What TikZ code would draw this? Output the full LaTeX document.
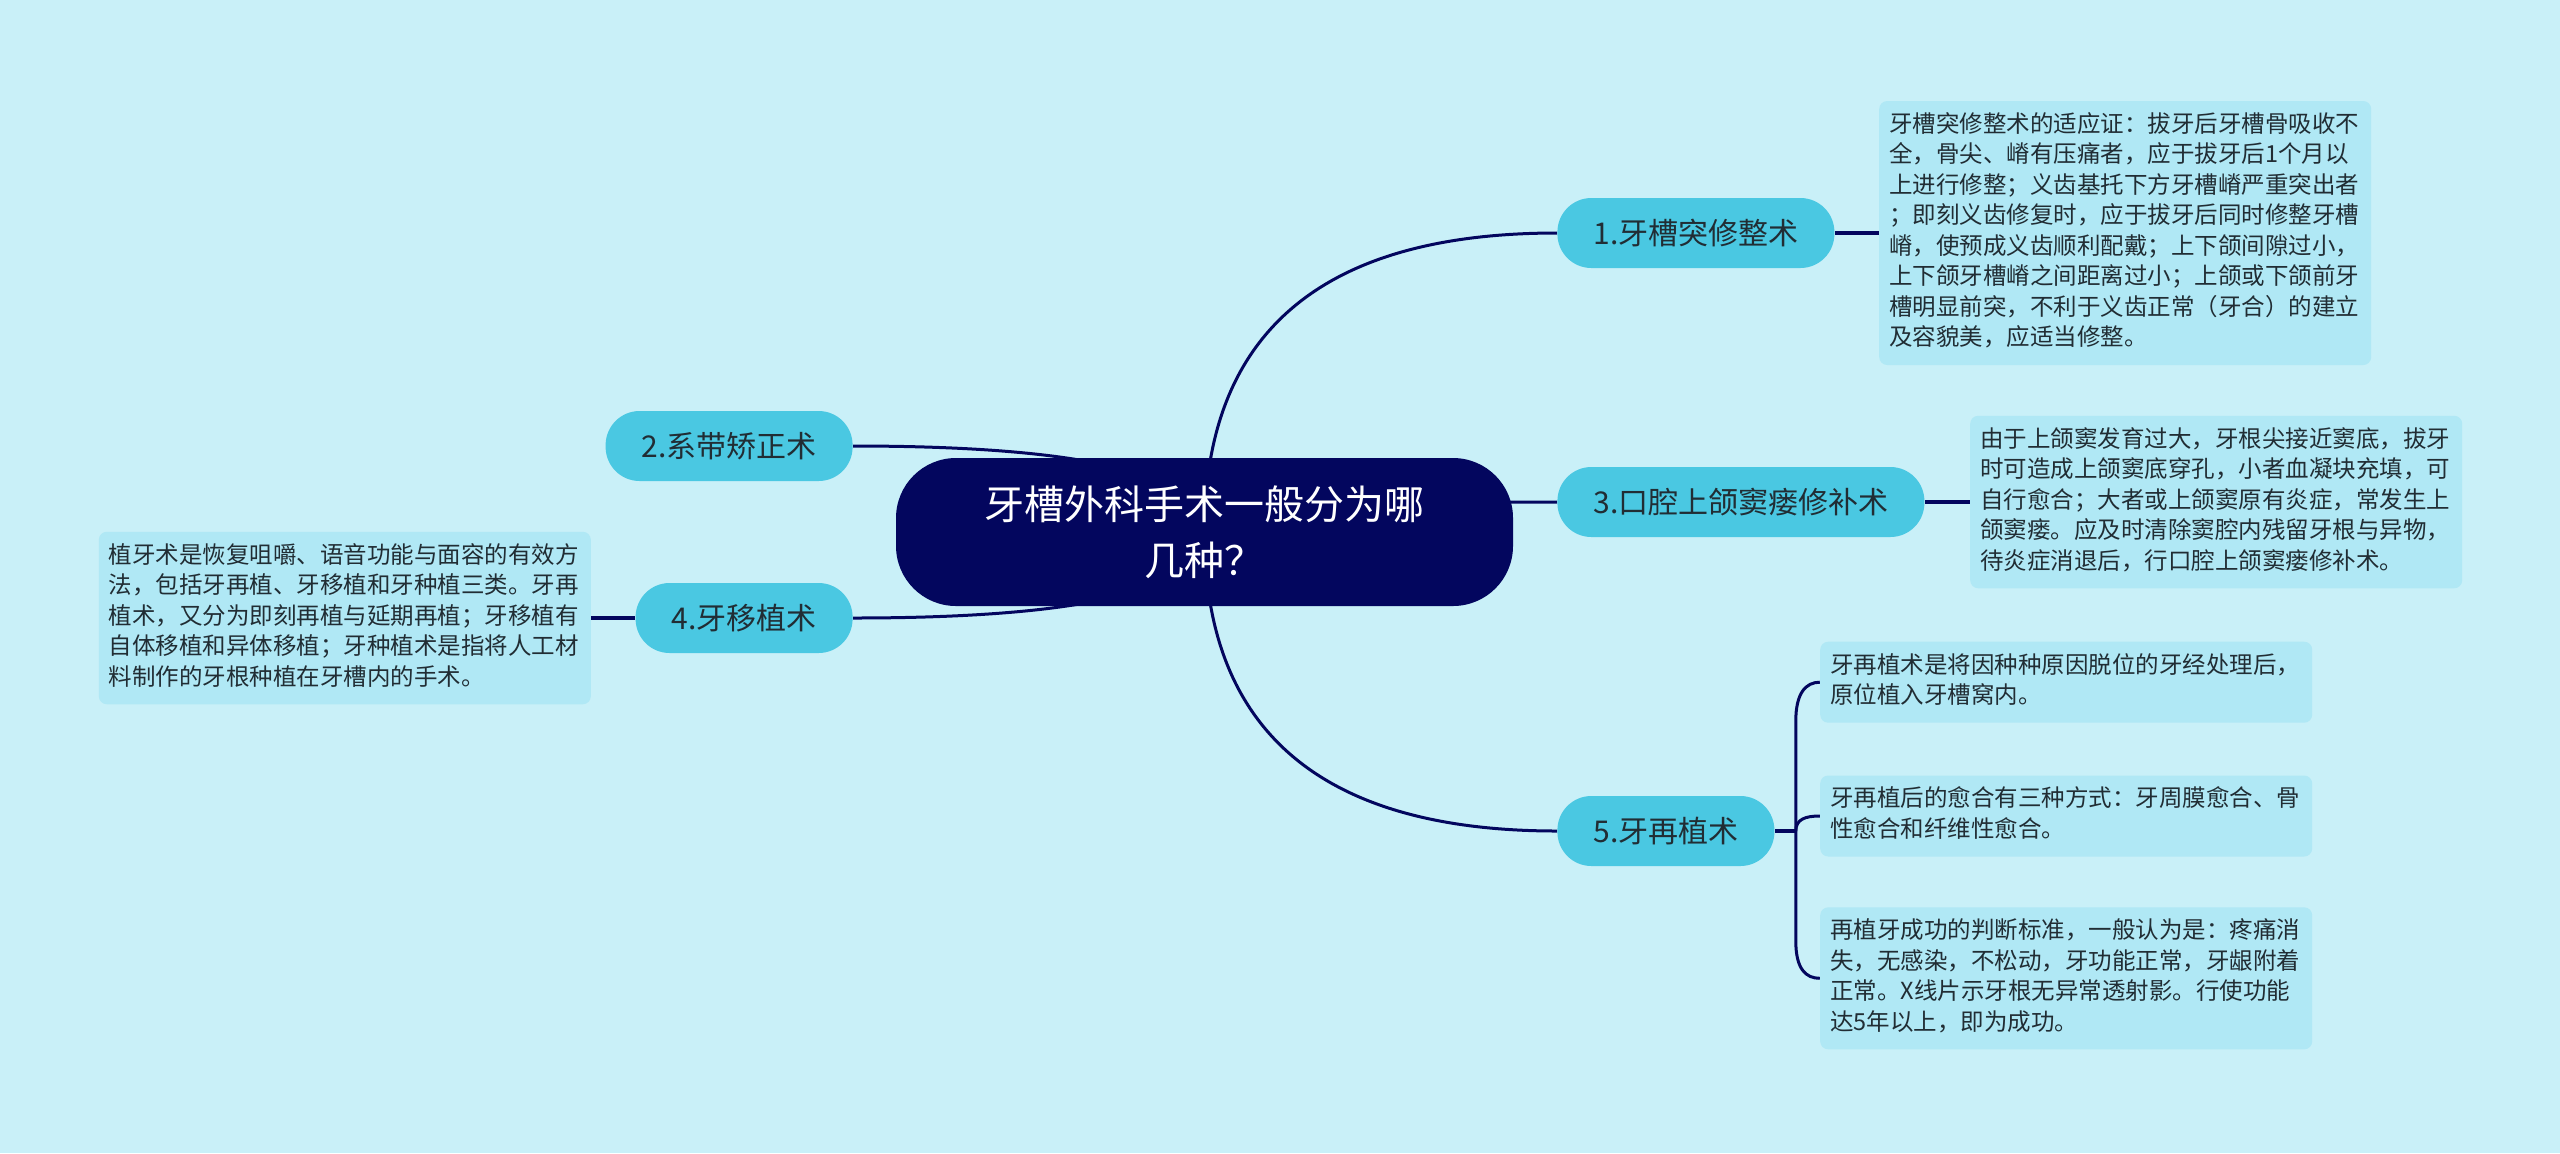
\documentclass[tikz,border=0pt]{standalone}
\usepackage{fontspec}
\newfontfamily\cjk{Noto Sans CJK SC}
\usepackage{tikz}
\usetikzlibrary{positioning, calc, backgrounds}
\pgfdeclarelayer{paper}
\pgfsetlayers{paper,background,main}
\definecolor{paperc}{RGB}{201,240,248}
\definecolor{navy}{RGB}{3,6,94}
\definecolor{branchc}{RGB}{74,200,226}
\definecolor{leafc}{RGB}{176,232,245}
\definecolor{inkc}{RGB}{33,45,52}
\tikzset{
  root/.style={rounded corners=30pt, fill=navy, text=white, align=center,
               minimum width=308.5pt, minimum height=74pt,
               font=\cjk\fontsize{20}{28}\selectfont},
  branch/.style={rounded corners=17pt, fill=branchc, text=inkc, minimum height=35pt,
                 inner xsep=18pt, font=\cjk\fontsize{15}{18}\selectfont},
  leaf/.style={rounded corners=4pt, fill=leafc, text=inkc, text width=236pt,
               align=left, inner xsep=5pt, inner ysep=5pt,
               font=\cjk\fontsize{11.75}{15.25}\selectfont,
               execute at begin node=\strut, execute at end node=\strut},
  curve/.style={draw=navy, line width=1.5pt},
  lnk/.style={draw=navy, line width=2pt},
}

\begin{document}
\begin{tikzpicture}[x=0.5pt, y=-0.5pt]

\begin{pgfonlayer}{paper}
  \fill[paperc] (0,0) rectangle (2560,1153);
\end{pgfonlayer}
\useasboundingbox (0,0) rectangle (2560,1153);

\node[root] (root) at (1204.5,532) {牙槽外科手术一般分为哪\\几种？};

\node[branch, anchor=west] (b1) at (1557,233) {1.牙槽突修整术};
\node[branch, anchor=east] (b2) at (853,446) {2.系带矫正术};
\node[branch, anchor=west] (b3) at (1557,502) {3.口腔上颌窦瘘修补术};
\node[branch, anchor=east] (b4) at (853,618) {4.牙移植术};
\node[branch, anchor=west] (b5) at (1557,831) {5.牙再植术};

\node[leaf, right=22pt of b1] (t1)
  {牙槽突修整术的适应证：拔牙后牙槽骨吸收不\\
   全，骨尖、嵴有压痛者，应于拔牙后1个月以\\
   上进行修整；义齿基托下方牙槽嵴严重突出者\\
   ；即刻义齿修复时，应于拔牙后同时修整牙槽\\
   嵴，使预成义齿顺利配戴；上下颌间隙过小，\\
   上下颌牙槽嵴之间距离过小；上颌或下颌前牙\\
   槽明显前突，不利于义齿正常（牙合）的建立\\
   及容貌美，应适当修整。};

\node[leaf, right=22.5pt of b3] (t3)
  {由于上颌窦发育过大，牙根尖接近窦底，拔牙\\
   时可造成上颌窦底穿孔，小者血凝块充填，可\\
   自行愈合；大者或上颌窦原有炎症，常发生上\\
   颌窦瘘。应及时清除窦腔内残留牙根与异物，\\
   待炎症消退后，行口腔上颌窦瘘修补术。};

\node[leaf, left=22pt of b4] (t4)
  {植牙术是恢复咀嚼、语音功能与面容的有效方\\
   法，包括牙再植、牙移植和牙种植三类。牙再\\
   植术，又分为即刻再植与延期再植；牙移植有\\
   自体移植和异体移植；牙种植术是指将人工材\\
   料制作的牙根种植在牙槽内的手术。};

\node[leaf, right=22.5pt of b5, yshift=7.5pt] (t5b)
  {牙再植后的愈合有三种方式：牙周膜愈合、骨\\
   性愈合和纤维性愈合。};
\node[leaf, above=26pt of t5b] (t5a)
  {牙再植术是将因种种原因脱位的牙经处理后，\\
   原位植入牙槽窝内。};
\node[leaf, below=25pt of t5b] (t5c)
  {再植牙成功的判断标准，一般认为是：疼痛消\\
   失，无感染，不松动，牙功能正常，牙龈附着\\
   正常。X线片示牙根无异常透射影。行使功能\\
   达5年以上，即为成功。};

\coordinate (j5) at ($(b5.east)+(21,0)$);

\begin{scope}[on background layer]
  \foreach \b/\s in {b1/west, b2/east, b3/west, b4/east, b5/west}
    \draw[curve] (root.center)
      .. controls ($(root.center)!0.667!(root.center |- \b.\s)$)
         and ($(\b.\s)!0.667!(root.center |- \b.\s)$) .. (\b.\s);

  \foreach \a/\b in {b1/t1, b3/t3, b4/t4}
    \draw[lnk] (\a) -- (\b);

  \draw[lnk] (b5.east) -- (j5);
  \draw[curve] (j5) -- ++(0,-110) .. controls +(0,-28) and +(-14,0) .. (t5a.west);
  \draw[curve] (j5) .. controls +(0,-12) and +(-14,0) .. (t5b.west);
  \draw[curve] (j5) -- ++(0,110) .. controls +(0,28) and +(-14,0) .. (t5c.west);
\end{scope}

\end{tikzpicture}
\end{document}
